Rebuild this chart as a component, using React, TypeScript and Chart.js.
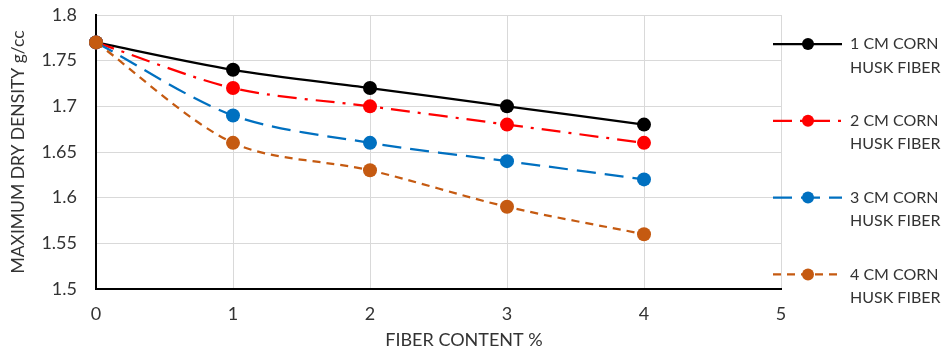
import React, { useEffect, useRef } from "react";
import { Chart, registerables } from "chart.js";

Chart.register(...registerables);

const fiberContent = [0, 1, 2, 3, 4];
const oneCm = [1.77, 1.74, 1.72, 1.7, 1.68];
const twoCm = [1.77, 1.72, 1.7, 1.68, 1.66];
const threeCm = [1.77, 1.69, 1.66, 1.64, 1.62];
const fourCm = [1.77, 1.66, 1.63, 1.59, 1.56];
const seriesNames = [
  ["1 CM CORN", "HUSK FIBER"],
  ["2 CM CORN", "HUSK FIBER"],
  ["3 CM CORN", "HUSK FIBER"],
  ["4 CM CORN", "HUSK FIBER"],
];
const xTitle = "FIBER CONTENT %";
const yTitle = "MAXIMUM DRY DENSITY g/cc";

const FONT = "Lato, 'Open Sans', sans-serif";
const TEXT = "#333333";

const legendPlugin = {
  id: "excelLegend",
  afterDraw(chart: any) {
    const ctx = chart.ctx as CanvasRenderingContext2D;
    ctx.save();
    chart.data.datasets.forEach((ds: any, i: number) => {
      const y = 44 + i * 76.8;
      ctx.strokeStyle = ds.borderColor;
      ctx.lineWidth = 2.25;
      ctx.setLineDash(ds.borderDash || []);
      ctx.beginPath();
      ctx.moveTo(773, y);
      ctx.lineTo(842, y);
      ctx.stroke();
      ctx.setLineDash([]);
      ctx.fillStyle = ds.borderColor;
      ctx.beginPath();
      ctx.arc(808, y, 6, 0, Math.PI * 2);
      ctx.fill();
      ctx.fillStyle = TEXT;
      ctx.font = `16px ${FONT}`;
      ctx.textAlign = "left";
      ctx.textBaseline = "middle";
      const lines = seriesNames[i];
      lines.forEach((t, k) => ctx.fillText(t, 850, y + k * 23.5));
    });
    // axis titles
    ctx.fillStyle = TEXT;
    ctx.font = `18px ${FONT}`;
    ctx.textAlign = "center";
    ctx.textBaseline = "middle";
    ctx.fillText(xTitle, 464, 340);
    ctx.translate(18, 152);
    ctx.rotate(-Math.PI / 2);
    ctx.font = `17.5px ${FONT}`;
    ctx.fillText(yTitle, 0, 0);
    ctx.restore();
  },
};

export default function App() {
  const ref = useRef<HTMLCanvasElement | null>(null);
  useEffect(() => {
    if (!ref.current) return;
    const mk = (label: string, data: number[], color: string, dash: number[], order: number) => ({
      label,
      data: fiberContent.map((x, i) => ({ x, y: data[i] })),
      borderColor: color,
      backgroundColor: color,
      pointBackgroundColor: color,
      pointBorderColor: color,
      pointBorderWidth: 0,
      pointRadius: 7,
      borderWidth: 2.25,
      borderDash: dash,
      tension: 0.3,
      clip: false as any,
      order,
    });
    const chart = new Chart(ref.current, {
      type: "line",
      data: {
        datasets: [
          mk(seriesNames[0].join(" "), oneCm, "#000000", [], 3),
          mk(seriesNames[1].join(" "), twoCm, "#ff0000", [19, 8, 3, 8], 2),
          mk(seriesNames[2].join(" "), threeCm, "#0070c0", [19, 9], 1),
          mk(seriesNames[3].join(" "), fourCm, "#c55a11", [8, 6], 0),
        ],
      },
      options: {
        animation: false,
        responsive: true,
        maintainAspectRatio: false,
        layout: { padding: { left: 0, right: 162, top: 15, bottom: 0 } },
        plugins: { legend: { display: false }, tooltip: { enabled: false } },
        scales: {
          x: {
            type: "linear",
            min: 0,
            max: 5,
            ticks: {
              stepSize: 1,
              padding: 14,
              color: TEXT,
              font: { family: FONT, size: 18 },
              callback: (v: any) => String(v),
            },
            grid: { color: "#d9d9d9", lineWidth: 1, drawTicks: false },
            border: { color: "#000000", width: 2 },
            afterFit: (s: any) => {
              s.height = 65;
              s.paddingLeft = 0;
              s.paddingRight = 0;
            },
          },
          y: {
            type: "linear",
            min: 1.5,
            max: 1.8,
            ticks: {
              stepSize: 0.05,
              padding: 19,
              color: TEXT,
              font: { family: FONT, size: 18 },
              callback: (v: any) => String(Number(Number(v).toFixed(2))),
            },
            grid: { color: "#d9d9d9", lineWidth: 1, drawTicks: false },
            border: { color: "#000000", width: 2 },
            afterFit: (s: any) => {
              s.width = 96;
              s.paddingTop = 0;
              s.paddingBottom = 0;
            },
          },
        },
      },
      plugins: [legendPlugin],
    });
    return () => chart.destroy();
  }, []);
  return (
    <div style={{ position: "fixed", left: 0, top: 0, width: 943, height: 354, background: "#fff" }}>
      <canvas ref={ref} />
    </div>
  );
}
